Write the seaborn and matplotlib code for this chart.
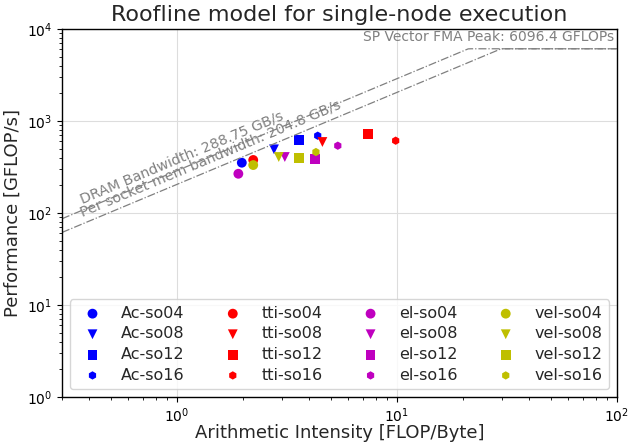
import numpy as np
import pandas as pd
import matplotlib
matplotlib.use("Agg")
import matplotlib.pyplot as plt
import seaborn as sns

# ---- data ----
models = ["Ac", "tti", "el", "vel"]
orders = ["so04", "so08", "so12", "so16"]
model_colors = ["b", "r", "m", "y"]
order_markers = ["o", "v", "s", "h"]

ac_ai = [1.97, 2.76, 3.57, 4.36]
ac_perf = [352, 492, 617, 692]
tti_ai = [2.22, 4.58, 7.37, 9.86]
tti_perf = [377, 591, 717, 611]
el_ai = [1.90, 3.09, 4.25, 5.38]
el_perf = [267, 406, 383, 539]
vel_ai = [2.22, 2.90, 3.59, 4.28]
vel_perf = [332, 406, 399, 460]

dram_bw = 288.75
socket_bw = 204.8
peak = 6096.4

ai_all = [ac_ai, tti_ai, el_ai, vel_ai]
perf_all = [ac_perf, tti_perf, el_perf, vel_perf]

rows = []
for m, ais, perfs in zip(models, ai_all, perf_all):
    for o, a, p in zip(orders, ais, perfs):
        rows.append({"label": f"{m}-{o}", "model": m, "order": o, "ai": a, "perf": p})
df = pd.DataFrame(rows)

sns.set_style("ticks")
plt.rcParams["font.family"] = ["DejaVu Sans"]

fig = plt.figure(figsize=(6.39, 4.45), dpi=100)
ax = fig.add_axes([62 / 639, 1 - 397 / 445, (617 - 62) / 639, (397 - 29) / 445])

xlo, xhi = 0.3, 100
xs = np.logspace(np.log10(xlo), np.log10(xhi), 400)
ax.plot(xs, np.minimum(dram_bw * xs, peak), color="gray", ls="-.", lw=0.9)
ax.plot(xs, np.minimum(socket_bw * xs, peak), color="gray", ls="-.", lw=0.9)

for m, c in zip(models, model_colors):
    for o, mk in zip(orders, order_markers):
        sub = df[(df.model == m) & (df.order == o)]
        sns.scatterplot(data=sub, x="ai", y="perf", color=c, marker=mk,
                        s=50 if mk != "h" else 36, edgecolor="none",
                        label=f"{m}-{o}", ax=ax)

ax.set_xscale("log")
ax.set_yscale("log")
ax.set_xlim(xlo, xhi)
ax.set_ylim(1, 1e4)
ax.grid(True, which="major", color="#dddddd", lw=0.8)
ax.set_axisbelow(True)
for sp in ax.spines.values():
    sp.set_visible(True)
    sp.set_color("black")
    sp.set_linewidth(1.0)
ax.tick_params(which="both", direction="out", colors="black", labelsize=10)

ax.set_title("Roofline model for single-node execution", fontsize=16)
ax.set_xlabel("Arithmetic Intensity [FLOP/Byte]", fontsize=13, labelpad=-1)
ax.set_ylabel("Performance [GFLOP/s]", fontsize=13)

angle = np.degrees(np.arctan(92 / 219))
x0 = 0.375
ax.text(x0, dram_bw * x0 * 1.1, f"DRAM Bandwidth: {dram_bw} GB/s", color="gray",
        fontsize=10.3, rotation=angle, rotation_mode="anchor", ha="left", va="bottom")
ax.text(x0, socket_bw * x0 * 1.1, f"Per socket mem bandwidth: {socket_bw} GB/s", color="gray",
        fontsize=10.3, rotation=angle, rotation_mode="anchor", ha="left", va="bottom")
ax.text(97, peak * 1.12, f"SP Vector FMA Peak: {peak} GFLOPs", color="gray",
        fontsize=10, ha="right", va="bottom")

ax.legend(ncol=4, loc="lower center", fontsize=11.5, frameon=True, labelspacing=0.35)

fig.savefig("out.png", dpi=100)
